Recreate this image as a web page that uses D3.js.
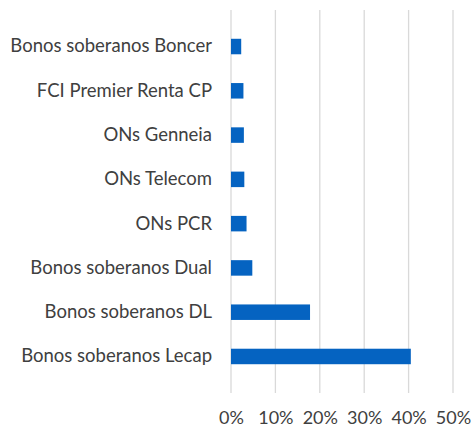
<!DOCTYPE html>
<html>
<head>
<meta charset="utf-8">
<script src="https://cdn.jsdelivr.net/npm/d3@7"></script>
<style>
  body { margin: 0; background: #fff; }
  text { font-family: Lato, sans-serif; fill: #404040; }
</style>
</head>
<body>
<svg id="chart" width="472" height="430"></svg>
<script>
// categorías (de arriba hacia abajo) y participación en cartera
const categories = [
  "Bonos soberanos Boncer",
  "FCI Premier Renta CP",
  "ONs Genneia",
  "ONs Telecom",
  "ONs PCR",
  "Bonos soberanos Dual",
  "Bonos soberanos DL",
  "Bonos soberanos Lecap"
];
const values = [0.023, 0.028, 0.029, 0.030, 0.035, 0.048, 0.178, 0.405];
const ticks = [0, 0.1, 0.2, 0.3, 0.4, 0.5];

const svg = d3.select("#chart");
const margin = { top: 10, right: 19, bottom: 37, left: 231 };
const width = +svg.attr("width");
const height = +svg.attr("height");
const innerWidth = width - margin.left - margin.right;
const innerHeight = height - margin.top - margin.bottom;

const g = svg.append("g")
  .attr("transform", `translate(${margin.left}, ${margin.top})`);

const x = d3.scaleLinear().domain([0, 0.5]).range([0, innerWidth]);
const y = d3.scaleBand().domain(categories).range([0, innerHeight]).padding(0.65);

// líneas de grilla
g.selectAll(".grid")
  .data(ticks)
  .enter()
  .append("line")
  .attr("x1", d => x(d))
  .attr("x2", d => x(d))
  .attr("y1", 0)
  .attr("y2", innerHeight)
  .attr("stroke", "#d9d9d9")
  .attr("stroke-width", 1.3);

// barras
g.selectAll(".bar")
  .data(categories)
  .enter()
  .append("rect")
  .attr("x", x(0))
  .attr("y", d => y(d))
  .attr("width", (d, i) => x(values[i]) - x(0))
  .attr("height", y.bandwidth())
  .attr("fill", "#0563c1");

// eje X
const xAxis = g.append("g")
  .attr("transform", `translate(0, ${innerHeight})`)
  .call(d3.axisBottom(x).tickValues(ticks).tickFormat(d3.format(".0%")).tickSize(0).tickPadding(18));
xAxis.select(".domain").remove();
xAxis.selectAll("text").style("font-size", "18px").attr("fill", "#404040");

// eje Y
const yAxis = g.append("g")
  .call(d3.axisLeft(y).tickSize(0).tickPadding(19));
yAxis.select(".domain").remove();
yAxis.selectAll("text").style("font-size", "18.5px").attr("fill", "#404040");
</script>
</body>
</html>
